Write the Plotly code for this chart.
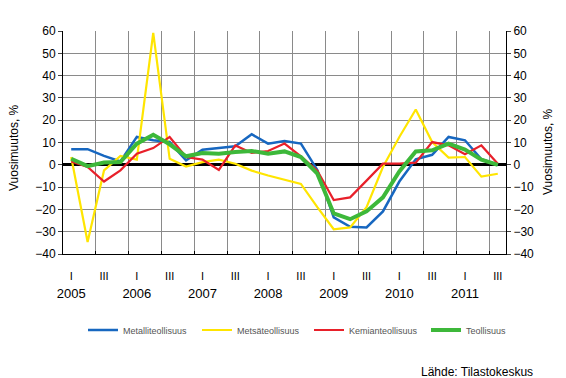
import plotly.graph_objects as go

quarters = [f"{y} Q{q}" for y in range(2005, 2012) for q in range(1, 5)][:27]
quarter_ticks = ["I", "III"] * 14
year_labels = ["2005", "2006", "2007", "2008", "2009", "2010", "2011"]

metalli = [7, 7, 4, 1.5, 12.5, 11, 10.2, 2, 6.8, 7.7, 8.3, 13.7, 9.5, 10.7, 9.5, -2.3,
           -23.6, -27.8, -28.1, -20.9, -7.5, 2.5, 4.5, 12.5, 11, 2.5, 0]
metsa = [3.5, -34.6, -2.5, 4, 2.3, 59.2, 2.7, -0.8, 1.2, 2.3, 0.5, -2.6, -4.8, -6.8, -8.6, -19,
         -28.9, -28.1, -19, -1, 12.5, 24.8, 10.2, 3.2, 3.5, -5.3, -4]
kemian = [1.5, -1, -7.5, -2.5, 5, 7.5, 12.5, 3.5, 2.3, -2.3, 8.7, 5.3, 6.2, 9.5, 3.8, -2.6,
          -15.8, -14.6, -7.1, 0.5, 0.5, 1, 10.2, 8.7, 4.7, 8.7, 0.5]
teollisuus = [2.7, -0.6, 1, 1.2, 9.5, 13.5, 9.2, 3.8, 5.3, 5, 5.7, 6.2, 5, 6, 3.5, -4,
              -21.8, -24.4, -20.9, -14.6, -3, 6, 6.5, 9.5, 6.8, 2.3, 0]

series = [
    ("Metalliteollisuus", metalli, "#1767C0", 2.5, "legend"),
    ("Metsäteollisuus", metsa, "#FFE500", 2.2, "legend2"),
    ("Kemianteollisuus", kemian, "#E8202A", 2.2, "legend3"),
    ("Teollisuus", teollisuus, "#3DB83A", 4, "legend4"),
]

idx = list(range(len(quarters)))
FONT = "Arial, Liberation Sans, sans-serif"

fig = go.Figure()
for name, vals, col, w, lg in series:
    fig.add_trace(go.Scatter(x=idx, y=vals, mode="lines", name=name, legend=lg,
                             line=dict(color=col, width=w), customdata=quarters))

# invisible helpers so the overlay axes render
fig.add_trace(go.Scatter(x=idx, y=metalli, xaxis="x2", yaxis="y2", mode="lines",
                         line=dict(width=0), opacity=0, showlegend=False, hoverinfo="skip"))
fig.add_trace(go.Scatter(x=idx, y=metalli, xaxis="x3", yaxis="y", mode="lines",
                         line=dict(width=0), opacity=0, showlegend=False, hoverinfo="skip"))

L, R, T, B = 63, 506, 31, 254
PW, PH = R - L, B - T


def px_x(p):
    return (p - L) / PW


def px_y(p):
    return (B - p) / PH


def legend_at(xpx):
    return dict(orientation="h", x=px_x(xpx), xanchor="left", y=px_y(330), yanchor="middle",
                font=dict(size=9, color="#555"), bgcolor="rgba(0,0,0,0)",
                itemwidth=30, tracegroupgap=0)


xr = [-0.5, len(quarters) - 0.5]
fig.update_layout(
    width=566, height=378,
    margin=dict(l=L, r=566 - R, t=T, b=378 - B, autoexpand=False),
    paper_bgcolor="white", plot_bgcolor="white",
    font=dict(family=FONT, size=11, color="black"),
    showlegend=True,
    legend=legend_at(83),
    legend2=legend_at(197),
    legend3=legend_at(309),
    legend4=legend_at(426),
    xaxis=dict(range=xr, tick0=-0.5, dtick=2, showgrid=True, gridcolor="#8a8a8a", gridwidth=1,
               showticklabels=False, showline=True, linecolor="black", linewidth=1,
               ticks="inside", ticklen=3, tickcolor="black", zeroline=False, automargin=False),
    xaxis2=dict(range=xr, overlaying="x", anchor="y", side="bottom", tickmode="array",
                tickvals=idx[::2], ticktext=quarter_ticks[:len(idx[::2])], showgrid=False,
                showline=False, ticks="", zeroline=False, ticklabelstandoff=14,
                tickfont=dict(size=11), automargin=False),
    xaxis3=dict(range=xr, overlaying="x", anchor="y", side="bottom", tickmode="array",
                tickvals=idx[::4], ticktext=year_labels, showgrid=False,
                showline=False, ticks="", zeroline=False, ticklabelstandoff=30,
                tickfont=dict(size=13), automargin=False),
    yaxis=dict(range=[-40, 60], dtick=10, showgrid=True, gridcolor="#8a8a8a", gridwidth=1,
               zeroline=True, zerolinecolor="black", zerolinewidth=3,
               showline=True, linecolor="black", linewidth=1, ticks="outside", ticklen=4,
               tickfont=dict(size=12), automargin=False),
    yaxis2=dict(range=[-40, 60], dtick=10, overlaying="y", side="right", anchor="x",
                showgrid=False, zeroline=False, showline=True, linecolor="black", linewidth=1,
                ticks="outside", ticklen=4, tickfont=dict(size=12), automargin=False),
    annotations=[
        dict(text="Lähde: Tilastokeskus", xref="paper", yref="paper",
             x=px_x(535), y=px_y(372), xanchor="right", yanchor="middle",
             showarrow=False, font=dict(size=12, color="black")),
        dict(text="Vuosimuutos, %", xref="paper", yref="paper", textangle=-90,
             x=px_x(14), y=px_y(148), xanchor="center", yanchor="middle",
             showarrow=False, font=dict(size=12, color="black")),
        dict(text="Vuosimuutos, %", xref="paper", yref="paper", textangle=-90,
             x=px_x(548), y=px_y(152), xanchor="center", yanchor="middle",
             showarrow=False, font=dict(size=12, color="black")),
    ],
)

fig.write_html("out.html", config={"displayModeBar": False},
               post_script="document.body.style.margin='0';document.body.style.overflow='hidden';")
